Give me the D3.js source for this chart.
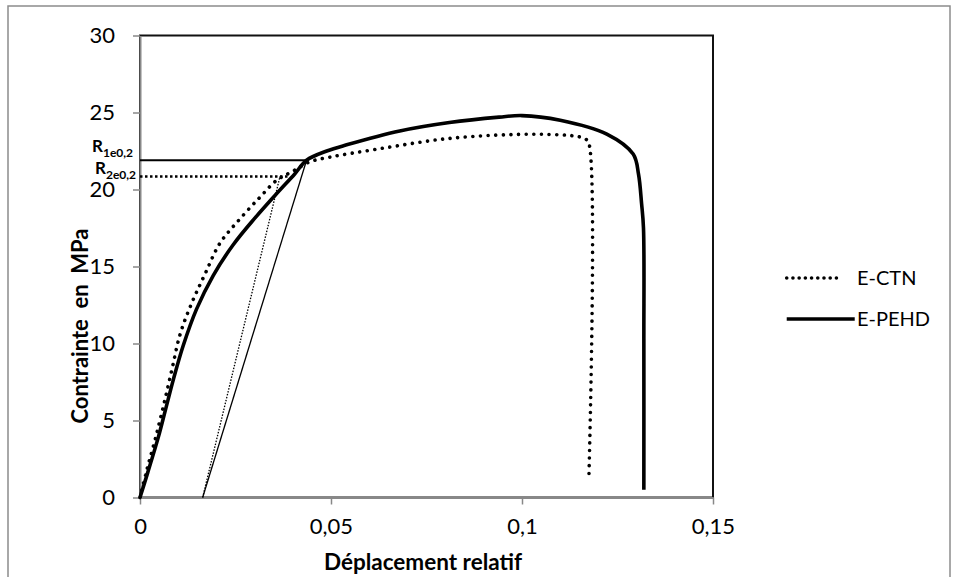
<!DOCTYPE html>
<html><head><meta charset="utf-8">
<script src="https://cdn.jsdelivr.net/npm/d3@7/dist/d3.min.js"></script>
<style>body{margin:0;background:#fff}svg{display:block}text{font-family:Lato,"Noto Sans",sans-serif;fill:#000}</style>
</head><body>
<script>
// Data
const xTicks = [0, 0.05, 0.1, 0.15];
const xTickLabels = ["0", "0,05", "0,1", "0,15"];
const yTicks = [0, 5, 10, 15, 20, 25, 30];
const seriesNames = ["E-CTN", "E-PEHD"];
const ctnX = [0,0.00175,0.0039,0.0061,0.0083,0.0105,0.0135,0.017,0.0209,0.0262,0.0314,0.0358,0.0401,0.0445,0.0497,0.0628,0.0803,0.0977,0.11,0.1143,0.1165,0.1175,0.1175];
const ctnY = [0,1.75,3.7,5.9,8.25,10.6,12.6,14.5,16.5,18.1,19.5,20.6,21.2,21.8,22.1,22.65,23.3,23.57,23.55,23.45,23.3,23.0,1.2];
const pehdX = [0,0.002,0.0048,0.0068,0.0088,0.0113,0.0148,0.0192,0.0244,0.030,0.0355,0.0405,0.0436,0.0489,0.0541,0.068,0.081,0.094,0.1,0.11,0.1222,0.1291,0.1305,0.1313,0.1318,0.1319,0.1319];
const pehdY = [0,1.6,3.92,5.82,7.72,9.85,12.23,14.43,16.41,18.12,19.66,21.01,21.9,22.5,22.9,23.8,24.35,24.7,24.8,24.5,23.6,22.3,21.0,19.1,17.5,10,0.5];
const offsetCtnX = [0.0164, 0.0366];
const offsetCtnY = [0, 20.8];
const offsetPehdX = [0.0164, 0.0436];
const offsetPehdY = [0, 21.9];
const r1X = [0, 0.0436], r1Y = [21.9, 21.9];
const r2X = [0, 0.039], r2Y = [20.84, 20.84];

const W = 959, H = 577;
const svg = d3.select("body").append("svg").attr("width", W).attr("height", H);
const L = 140, R = 713, T = 35.5, B = 497.5;
const x = d3.scaleLinear().domain([0, 0.15]).range([L, R]);
const y = d3.scaleLinear().domain([0, 30]).range([B, T]);

// outer frame
svg.append("rect").attr("x", 8).attr("y", 6).attr("width", 942).attr("height", 575)
  .attr("fill", "none").attr("stroke", "#8c8c8c").attr("stroke-width", 1.5);

// plot area border
svg.append("rect").attr("x", L).attr("y", T).attr("width", R - L).attr("height", B - T)
  .attr("fill", "none").attr("stroke", "#111").attr("stroke-width", 2);

// axes
const gx = svg.append("g").attr("transform", `translate(0,${B})`)
  .call(d3.axisBottom(x).tickValues(xTicks).tickFormat((d, i) => xTickLabels[i]).tickSizeOuter(0).tickSizeInner(7).tickPadding(14));
const gy = svg.append("g").attr("transform", `translate(${L},0)`)
  .call(d3.axisLeft(y).tickValues(yTicks).tickSizeOuter(0).tickSizeInner(7).tickPadding(18));
[gx, gy].forEach(g => {
  g.selectAll("path.domain").attr("stroke", "#888").attr("stroke-width", 2);
  g.selectAll(".tick line").attr("stroke", "#888").attr("stroke-width", 1.5);
  g.selectAll(".tick text").attr("font-size", 22).attr("font-family", "Lato,sans-serif").attr("fill", "#000");
});

const line = d3.line().x(d => x(d[0])).y(d => y(d[1]));
const curve = d3.line().x(d => x(d[0])).y(d => y(d[1])).curve(d3.curveCatmullRom.alpha(0.5));
const zip = (a, b) => a.map((v, i) => [v, b[i]]);

// construction lines
svg.append("path").attr("d", line(zip(r1X, r1Y))).attr("fill", "none").attr("stroke", "#000").attr("stroke-width", 2);
svg.append("path").attr("d", line(zip(r2X, r2Y))).attr("fill", "none").attr("stroke", "#000").attr("stroke-width", 2.5).attr("stroke-dasharray", "2.5 2.5");
svg.append("path").attr("d", line(zip(offsetPehdX, offsetPehdY))).attr("fill", "none").attr("stroke", "#000").attr("stroke-width", 1.3);
svg.append("path").attr("d", line(zip(offsetCtnX, offsetCtnY))).attr("fill", "none").attr("stroke", "#000").attr("stroke-width", 1.3).attr("stroke-dasharray", "1.5 1.5");

// series
svg.append("path").attr("d", curve(zip(ctnX, ctnY))).attr("fill", "none").attr("stroke", "#000")
  .attr("stroke-width", 3.6).attr("stroke-linecap", "round").attr("stroke-dasharray", "0.01 7.6");
svg.append("path").attr("d", curve(zip(pehdX, pehdY))).attr("fill", "none").attr("stroke", "#000")
  .attr("stroke-width", 3.6).attr("stroke-linejoin", "round");

// R labels
function rLabel(xp, yp, sub) {
  const t = svg.append("text").attr("x", xp).attr("y", yp).attr("font-weight", "bold").attr("font-size", 17);
  t.append("tspan").text("R");
  t.append("tspan").attr("dy", 5).attr("font-size", 12).text(sub);
}
rLabel(92, 152, "1e0,2");
rLabel(95, 174, "2e0,2");

// axis titles
svg.append("text").attr("x", 423).attr("y", 570).attr("text-anchor", "middle")
  .attr("font-weight", "bold").attr("font-size", 22.5).text("Déplacement relatif");
svg.append("text").attr("transform", "translate(88,326) rotate(-90)").attr("text-anchor", "middle")
  .attr("font-weight", "bold").attr("font-size", 22).style("white-space", "pre").text("Contrainte  en  MPa");

// legend
const lg = svg.append("g");
const legY = [278, 319];
lg.append("line").attr("x1", x(0.1693)).attr("x2", x(0.1835)).attr("y1", legY[0]).attr("y2", legY[0])
  .attr("stroke", "#000").attr("stroke-width", 3.6).attr("stroke-linecap", "round").attr("stroke-dasharray", "0.01 6.2");
lg.append("line").attr("x1", x(0.1693)).attr("x2", x(0.1871)).attr("y1", legY[1]).attr("y2", legY[1])
  .attr("stroke", "#000").attr("stroke-width", 3.6);
seriesNames.forEach((n, i) => {
  lg.append("text").attr("x", 857).attr("y", legY[i] + 7).attr("font-size", 20).text(n);
});
</script>
</body></html>
